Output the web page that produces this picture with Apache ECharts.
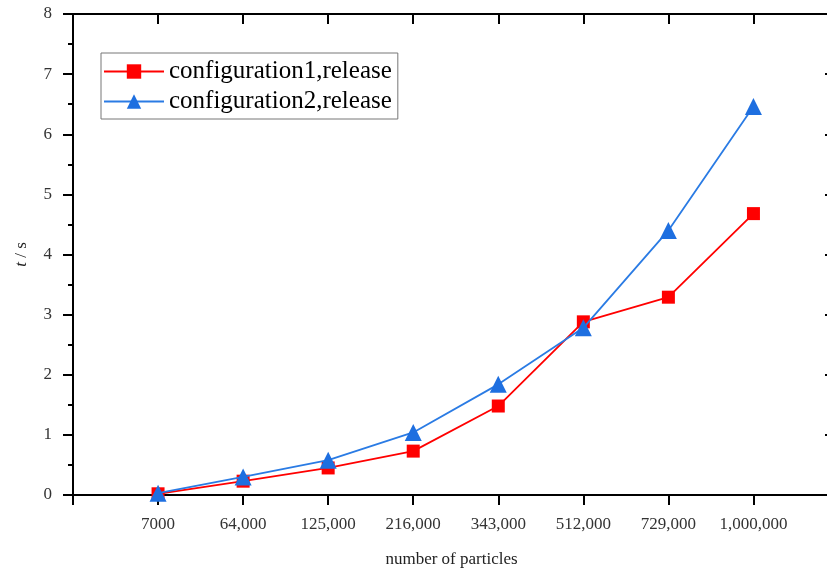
<!DOCTYPE html>
<html><head><meta charset="utf-8">
<script src="https://cdn.jsdelivr.net/npm/echarts@6/dist/echarts.min.js"></script>
<style>html,body{margin:0;padding:0;background:#fff}#c{width:827px;height:572px}</style>
</head><body><div id="c"></div>
<script>
var categories = ['7000','64,000','125,000','216,000','343,000','512,000','729,000','1,000,000'];
var config1 = [0.02, 0.23, 0.45, 0.73, 1.48, 2.88, 3.29, 4.68];
var config2 = [0.03, 0.30, 0.58, 1.04, 1.84, 2.78, 4.40, 6.46];
var yTicks = [0,1,2,3,4,5,6,7,8];

function pts(arr){ return arr.map(function(v,i){ return [i+1, v]; }); }
var font = '"Liberation Serif", "DejaVu Serif", serif';
var chart = echarts.init(document.getElementById('c'), null, {renderer:'canvas'});
var axisLine = {show:true, onZero:false, lineStyle:{color:'#000', width:2}};
chart.setOption({
  animation:false,
  backgroundColor:'#fff',
  grid:{left:73, top:14, right:-3, bottom:77, containLabel:false, outerBoundsMode:'none'},
  legend:{
    left:101, top:53, orient:'vertical', itemWidth:60, itemHeight:18, itemGap:5,
    padding:[6,6,5,2],
    borderColor:'#777', borderWidth:1, borderRadius:0,
    textStyle:{fontFamily:font, fontSize:25, color:'#000'},
    data:['configuration1,release','configuration2,release']
  },
  xAxis:[{
    type:'value', min:0, max:8.9, interval:1, position:'bottom',
    axisLine:axisLine,
    axisTick:{show:true, inside:false, length:10, lineStyle:{color:'#000', width:2}},
    axisLabel:{margin:21, fontFamily:font, fontSize:17, color:'#333',
      formatter:function(v){ var i=Math.round(v); return (Math.abs(v-i)<1e-6 && i>=1 && i<=categories.length)?categories[i-1]:''; }},
    splitLine:{show:false},
    name:'number of particles', nameLocation:'middle', nameGap:56,
    nameTextStyle:{fontFamily:font, fontSize:17, color:'#222'}
  },{
    type:'value', min:0, max:8.9, interval:1, position:'top',
    axisLine:axisLine,
    axisTick:{show:true, inside:true, length:10, lineStyle:{color:'#000', width:2}},
    axisLabel:{show:false}, splitLine:{show:false}
  }],
  yAxis:[{
    type:'value', min:0, max:8, interval:1, position:'left',
    axisLine:axisLine,
    axisTick:{show:true, inside:false, length:10, lineStyle:{color:'#000', width:2}},
    minorTick:{show:true, splitNumber:2, length:5, lineStyle:{color:'#000', width:2}},
    axisLabel:{margin:21, fontFamily:font, fontSize:17, color:'#333',
      formatter:function(v){ return yTicks.indexOf(v)>=0 ? String(v) : ''; }},
    splitLine:{show:false},
    name:'{i|t} / s', nameLocation:'middle', nameGap:43, nameRotate:90,
    nameTextStyle:{fontFamily:font, fontSize:17, color:'#222',
      rich:{i:{fontFamily:font, fontSize:17, fontStyle:'italic', color:'#222'}}}
  },{
    type:'value', min:0, max:8, interval:1, position:'right',
    axisLine:axisLine,
    axisTick:{show:true, inside:true, length:5, lineStyle:{color:'#000', width:2}},
    axisLabel:{show:false}, splitLine:{show:false}
  }],
  series:[{
    name:'configuration1,release', type:'line', data:pts(config1),
    symbol:'rect', symbolSize:13, showAllSymbol:true,
    itemStyle:{color:'#ff0000'}, lineStyle:{color:'#ff0000', width:1.8}, z:3
  },{
    name:'configuration2,release', type:'line', data:pts(config2),
    symbol:'triangle', symbolSize:17, showAllSymbol:true,
    itemStyle:{color:'#1e6fe0'}, lineStyle:{color:'#2a7be4', width:1.8}, z:4
  }]
});
</script></body></html>
